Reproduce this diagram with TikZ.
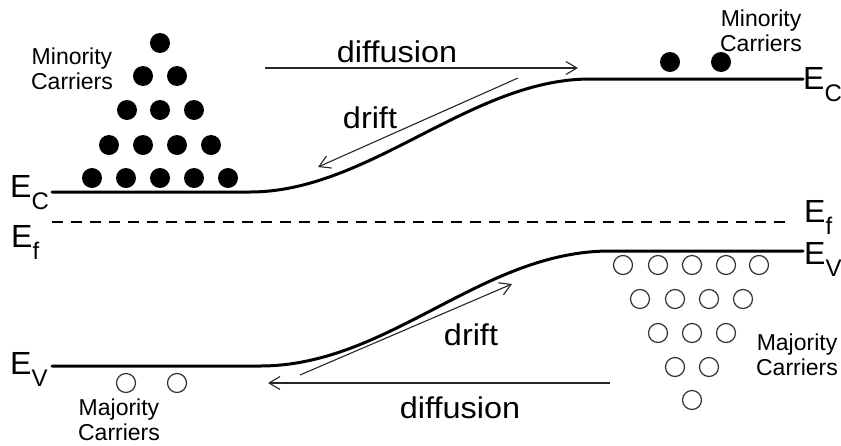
\documentclass[tikz,border=0pt]{standalone}
\usepackage{fontspec}
\setmainfont{Liberation Sans}
\usetikzlibrary{arrows.meta}
\newcommand{\lvlab}[1]{E\raisebox{-12pt}{\fontsize{24}{24}\selectfont #1}}
\newcommand{\widetxt}[1]{\scalebox{1.08}[1]{#1}}
\tikzset{
  band/.style={line width=3pt, line cap=round},
  fermi/.style={line width=1.5pt, dash pattern=on 11pt off 8pt},
  flow/.style={line width=1.1pt, black!85, -{Straight Barb[length=11pt,width=13pt,line width=1.1pt]}},
  elec/.style={circle, fill=black, inner sep=0pt, minimum size=20pt},
  hole/.style={circle, draw=black!80, line width=1.2pt, inner sep=0pt, minimum size=19pt},
  carr/.style={font=\fontsize{23}{25}\selectfont, align=center, inner sep=0pt},
  flowlab/.style={font=\fontsize{30}{32}\selectfont, inner sep=0pt},
  lev/.style={font=\fontsize{32}{34}\selectfont, inner sep=0pt, anchor=base west},
}
\begin{document}
\begin{tikzpicture}[x=1pt,y=-1pt]
\useasboundingbox (0,0) rectangle (841,445);
% bands
\coordinate (ecl) at (52,192);
\coordinate (ecr) at (803,79);
\coordinate (efl) at (52,222);
\coordinate (efr) at (792,222);
\coordinate (evl) at (52,366);
\coordinate (evr) at (803,251);
\draw[band] (ecl) -- (250,192) .. controls (369,192) and (471,79) .. (590,79) -- (ecr);
\draw[fermi] (efl) -- (efr);
\draw[band] (evl) -- (260,366) .. controls (389,366) and (481,251) .. (610,251) -- (evr);
% level labels
\node[lev] (lecl) at (10,197) {\lvlab{C}};
\node[lev] (lefl) at (11,247) {\lvlab{f}};
\node[lev] (levl) at (10,374) {\lvlab{V}};
\node[lev] (lecr) at (803,89) {\lvlab{C}};
\node[lev] (lefr) at (804,222) {\lvlab{f}};
\node[lev] (levr) at (804,264) {\lvlab{V}};
% electrons left (pyramid)
\node[elec] (e1) at (160,43) {};
\node[elec] (e2) at (143,76) {};
\node[elec] (e3) at (177,76) {};
\node[elec] (e4) at (127,110) {};
\node[elec] (e5) at (160,110) {};
\node[elec] (e6) at (194,110) {};
\node[elec] (e7) at (109,145) {};
\node[elec] (e8) at (143,145) {};
\node[elec] (e9) at (177,145) {};
\node[elec] (e10) at (211,145) {};
\node[elec] (e11) at (92,178) {};
\node[elec] (e12) at (126,178) {};
\node[elec] (e13) at (160,178) {};
\node[elec] (e14) at (194,178) {};
\node[elec] (e15) at (228,178) {};
% electrons right
\node[elec] (e16) at (670,62) {};
\node[elec] (e17) at (721,62) {};
% holes right (inverted pyramid)
\node[hole] (h1) at (623,265) {};
\node[hole] (h2) at (658,265) {};
\node[hole] (h3) at (692,265) {};
\node[hole] (h4) at (726,265) {};
\node[hole] (h5) at (759,265) {};
\node[hole] (h6) at (640,299) {};
\node[hole] (h7) at (675,299) {};
\node[hole] (h8) at (709,299) {};
\node[hole] (h9) at (743,299) {};
\node[hole] (h10) at (658,333) {};
\node[hole] (h11) at (692,333) {};
\node[hole] (h12) at (726,333) {};
\node[hole] (h13) at (675,367) {};
\node[hole] (h14) at (709,367) {};
\node[hole] (h15) at (692,400) {};
% holes left
\node[hole] (h16) at (126,383) {};
\node[hole] (h17) at (177,383) {};
% carrier labels
\node[carr] (minl) at (72,69) {Minority\\Carriers};
\node[carr] (minr) at (761,31) {Minority\\Carriers};
\node[carr] (majr) at (797,355) {Majority\\Carriers};
\node[carr] (majl) at (119,420) {Majority\\Carriers};
% flow arrows
\coordinate (d1s) at (265,68);
\coordinate (d1e) at (578,68);
\coordinate (r1s) at (518,78);
\coordinate (r1e) at (318,167);
\coordinate (r2s) at (300,375);
\coordinate (r2e) at (512,284);
\coordinate (d2s) at (610,383);
\coordinate (d2e) at (268,383);
\draw[flow] (d1s) -- (d1e);
\draw[flow] (r1s) -- (r1e);
\draw[flow] (r2s) -- (r2e);
\draw[flow] (d2s) -- (d2e);
\node[flowlab] (ldiff1) at (397,52) {\widetxt{diffusion}};
\node[flowlab] (ldrift1) at (370,118) {\widetxt{drift}};
\node[flowlab] (ldrift2) at (471,335) {\widetxt{drift}};
\node[flowlab] (ldiff2) at (460,408) {\widetxt{diffusion}};
\end{tikzpicture}
\end{document}
